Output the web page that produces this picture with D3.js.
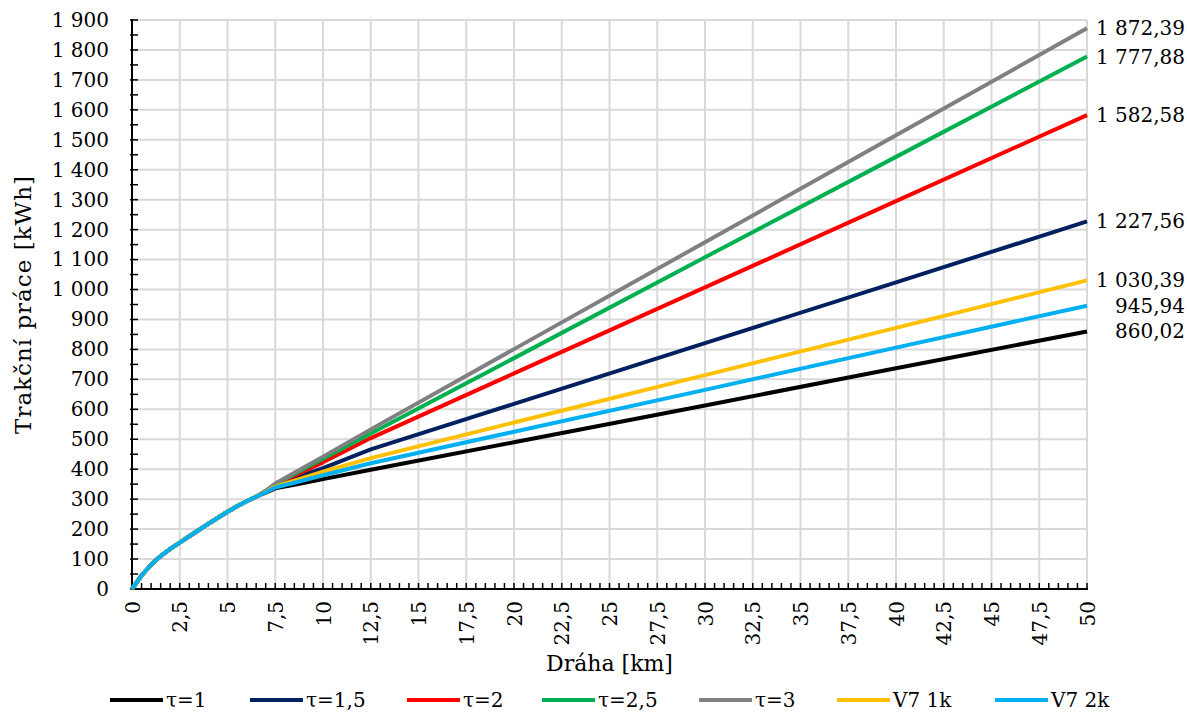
<!DOCTYPE html>
<html>
<head>
<meta charset="utf-8">
<script src="https://cdn.jsdelivr.net/npm/d3@7"></script>
<style>
  body { margin: 0; background: #fff; }
  text { font-family: "DejaVu Serif", serif; fill: #000; }
</style>
</head>
<body>
<svg id="chart" width="1187" height="720"></svg>
<script>
// Shared start-up section (same for all runs), distance in km, work in kWh
const sharedDistance = [0, 0.5, 1, 1.5, 2, 2.5, 3, 3.5, 4, 4.5, 5, 5.5, 6, 6.5];
const sharedWork     = [0, 45, 81, 110, 134, 155, 176, 197, 218, 238, 258, 276, 293, 308];

// Individual sections after the start-up
const tailDistance = [7, 7.5, 8.5, 10, 12.5, 20, 30, 40, 50];
const seriesNames  = ["τ=1", "τ=1,5", "τ=2", "τ=2,5", "τ=3", "V7 1k", "V7 2k"];
const seriesColors = ["#000000", "#002060", "#FF0000", "#00B050", "#808080", "#FFC000", "#00B0F0"];
const tau1   = [322, 336, 348, 367, 398, 490, 613, 737, 860.02];
const tau15  = [325, 345, 370, 404, 466, 618, 821, 1024, 1227.56];
const tau2   = [326, 348, 378, 423, 504, 720, 1007, 1295, 1582.58];
const tau25  = [327, 350, 384, 435, 519, 771, 1108, 1443, 1777.88];
const tau3   = [328, 352, 388, 442, 533, 801, 1158, 1515, 1872.39];
const v7_1k  = [324, 342, 362, 392, 437, 556, 714, 872, 1030.39];
const v7_2k  = [323, 339, 355, 380, 420, 525, 665, 806, 945.94];
const seriesTails = [tau1, tau15, tau2, tau25, tau3, v7_1k, v7_2k];

// Axis ticks
const xTicks = [0, 2.5, 5, 7.5, 10, 12.5, 15, 17.5, 20, 22.5, 25, 27.5, 30, 32.5, 35, 37.5, 40, 42.5, 45, 47.5, 50];
const yTicks = [0, 100, 200, 300, 400, 500, 600, 700, 800, 900, 1000, 1100, 1200, 1300, 1400, 1500, 1600, 1700, 1800, 1900];

const svg = d3.select("#chart");
const plot = { left: 132, right: 1087, top: 20, bottom: 589 };

const x = d3.scaleLinear().domain([0, 50]).range([plot.left, plot.right]);
const y = d3.scaleLinear().domain([0, 1900]).range([plot.bottom, plot.top]);

const cz = d3.formatLocale({ decimal: ",", thousands: "\u00a0", grouping: [3] });
const fmtInt = cz.format(",.0f");
const fmtDec = cz.format(",.2f");
const fmtKm = v => String(v).replace(".", ",");

// Gridlines
const grid = svg.append("g");
grid.selectAll("line.h").data(yTicks.slice(1)).join("line")
  .attr("x1", plot.left).attr("x2", plot.right)
  .attr("y1", d => y(d)).attr("y2", d => y(d))
  .attr("stroke", "#d9d9d9").attr("stroke-width", 2);
grid.selectAll("line.v").data(xTicks.slice(1)).join("line")
  .attr("x1", d => x(d)).attr("x2", d => x(d))
  .attr("y1", plot.top).attr("y2", plot.bottom)
  .attr("stroke", "#d9d9d9").attr("stroke-width", 2);

// Y axis
const yAxis = svg.append("g").attr("transform", `translate(${plot.left},0)`)
  .call(d3.axisLeft(y).tickValues(yTicks).tickFormat(fmtInt).tickSize(0).tickPadding(23));
yAxis.select(".domain").remove();
yAxis.selectAll("text").style("font-size", "20px").style("font-family", "DejaVu Serif");
const yMinor = d3.range(0, 1901, 50);
svg.append("g").selectAll("line").data(yMinor).join("line")
  .attr("x1", plot.left - 2).attr("x2", plot.left + 6)
  .attr("y1", d => y(d)).attr("y2", d => y(d))
  .attr("stroke", "#000").attr("stroke-width", 1.5);

// X axis
const xAxis = svg.append("g").attr("transform", `translate(0,${plot.bottom})`)
  .call(d3.axisBottom(x).tickValues(xTicks).tickFormat(fmtKm).tickSize(0));
xAxis.select(".domain").remove();
xAxis.selectAll("text")
  .style("font-size", "20px").style("font-family", "DejaVu Serif")
  .attr("text-anchor", "end")
  .attr("dy", "0.35em")
  .attr("transform", "translate(0,12) rotate(-90)")
  .attr("x", 0).attr("y", 0);
const xMinor = d3.range(0, 50.001, 0.5);
svg.append("g").selectAll("line").data(xMinor).join("line")
  .attr("x1", d => x(d)).attr("x2", d => x(d))
  .attr("y1", plot.bottom - 6).attr("y2", plot.bottom)
  .attr("stroke", "#000").attr("stroke-width", 1.5);

// Axis lines
svg.append("line").attr("x1", plot.left).attr("x2", plot.right + 1)
  .attr("y1", plot.bottom).attr("y2", plot.bottom).attr("stroke", "#000").attr("stroke-width", 2);
svg.append("line").attr("x1", plot.left).attr("x2", plot.left)
  .attr("y1", plot.top - 1).attr("y2", plot.bottom).attr("stroke", "#000").attr("stroke-width", 2);

// Series lines
const line = d3.line().x(d => x(d[0])).y(d => y(d[1]));
seriesTails.forEach((tail, i) => {
  const pts = sharedDistance.map((d, j) => [d, sharedWork[j]])
    .concat(tailDistance.map((d, j) => [d, tail[j]]));
  svg.append("path").datum(pts)
    .attr("d", line).attr("fill", "none")
    .attr("stroke", seriesColors[i]).attr("stroke-width", 4)
    .attr("stroke-linejoin", "round");
});

// End value labels
seriesTails.forEach((tail, i) => {
  const v = tail[tail.length - 1];
  svg.append("text")
    .attr("x", 1185).attr("y", y(v)).attr("dy", "0.35em")
    .attr("text-anchor", "end")
    .style("font-size", "20px")
    .text(fmtDec(v));
});

// Axis titles
svg.append("text").attr("x", (plot.left + plot.right) / 2).attr("y", 671)
  .attr("text-anchor", "middle").style("font-size", "22px").text("Dráha [km]");
svg.append("text").attr("transform", `translate(31,${(plot.top + plot.bottom) / 2}) rotate(-90)`)
  .attr("text-anchor", "middle").style("font-size", "23px").style("letter-spacing", "1px")
  .text("Trakční práce [kWh]");

// Legend
const legendX = [110, 250, 407, 542, 699, 837, 995];
const legend = svg.append("g");
seriesNames.forEach((name, i) => {
  const g = legend.append("g").attr("transform", `translate(${legendX[i]},700)`);
  g.append("line").attr("x1", 0).attr("x2", 53).attr("y1", 0).attr("y2", 0)
    .attr("stroke", seriesColors[i]).attr("stroke-width", 4);
  g.append("text").attr("x", 56).attr("dy", "0.35em").style("font-size", "20px").text(name);
});
</script>
</body>
</html>
